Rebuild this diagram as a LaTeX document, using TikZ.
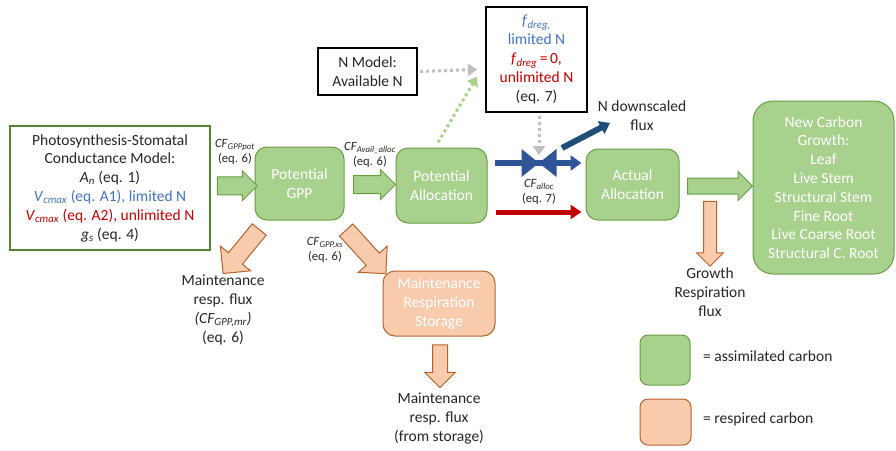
\documentclass[tikz,border=0pt]{standalone}
\usepackage{fontspec}
\setmainfont{Carlito}
\usetikzlibrary{shapes.arrows,arrows.meta,calc}
\definecolor{gfill}{HTML}{A9D18E}
\definecolor{gdraw}{HTML}{6A9E45}
\definecolor{gdark}{HTML}{548235}
\definecolor{ofill}{HTML}{F8CBAD}
\definecolor{odraw}{HTML}{B4632E}
\definecolor{tblue}{HTML}{4472C4}
\definecolor{tred}{HTML}{C00000}
\definecolor{vblue}{HTML}{2F5597}
\definecolor{dblue}{HTML}{1F4E79}
\definecolor{dgrey}{HTML}{BFBFBF}
\definecolor{ink}{HTML}{262626}
\newcommand{\FontMain}{\fontsize{15.5}{18.8}\selectfont}
\newcommand{\FontSmall}{\fontsize{12.6}{15}\selectfont}
\newcommand{\VarSub}[2]{\textit{#1}\textsubscript{\textit{#2}}}
\begin{document}
\begin{tikzpicture}[x=1pt,y=-1pt,font=\FontMain,text=ink,
  gbox/.style={draw=gdraw,fill=gfill,line width=1pt,rounded corners=12pt,text=white,align=center,inner sep=0pt},
  obox/.style={draw=odraw,fill=ofill,line width=1pt,rounded corners=12pt,text=white,align=center,inner sep=0pt},
  kbox/.style={draw=black,line width=2pt,fill=white,align=center,inner sep=0pt},
  lbl/.style={align=center,inner sep=0pt},
  slbl/.style={lbl,font=\FontSmall},
  garrow/.style={single arrow,draw=gdraw,fill=gfill,line width=1pt,inner xsep=0pt,single arrow head extend=6pt},
  oarrow/.style={single arrow,draw=odraw,fill=ofill,line width=1pt,inner xsep=0pt},
  dotarrow/.style={line width=3pt,dash pattern=on 3pt off 3pt,-{Triangle[length=9pt,width=12pt]}}]
\fill[white] (0,0) rectangle (896,450);
\useasboundingbox (0,0) rectangle (896,450);

% main boxes
\node[kbox,draw=gdark,minimum width=200pt,minimum height=124pt] (psm) at (110,188)
  {Photosynthesis-Stomatal\\ Conductance Model:\\ \VarSub{A}{n} (eq. 1)\\
   \textcolor{tblue}{\VarSub{V}{cmax} (eq. A1), limited N}\\
   \textcolor{tred}{\VarSub{V}{cmax} (eq. A2), unlimited N}\\
   \VarSub{g}{s} (eq. 4)};
\node[gbox,minimum width=89pt,minimum height=73pt] (pgpp) at (299.5,183.5) {Potential\\GPP};
\node[gbox,minimum width=91pt,minimum height=75pt] (palloc) at (441.5,185.5) {Potential\\Allocation};
\node[gbox,minimum width=93pt,minimum height=71pt] (aalloc) at (632.5,184.5) {Actual\\Allocation};
\node[gbox,rounded corners=20pt,minimum width=141pt,minimum height=173pt] (newc) at (823.5,187.5)
  {New Carbon\\Growth:\\Leaf\\Live Stem\\Structural Stem\\Fine Root\\Live Coarse Root\\Structural C. Root};
\node[obox,minimum width=112pt,minimum height=65pt] (mrs) at (439,303.5) {Maintenance\\Respiration\\Storage};
\node[kbox,minimum width=99pt,minimum height=47pt] (nmodel) at (367.5,71.5) {N Model:\\Available N};
\node[kbox,minimum width=101pt,minimum height=105pt] (fdreg) at (536.5,59.5)
  {\textcolor{tblue}{\VarSub{f}{dreg,}}\\ \textcolor{tblue}{limited N}\\
   \textcolor{tred}{\VarSub{f}{dreg}\,=\,0,}\\ \textcolor{tred}{unlimited N}\\ (eq. 7)};

% labels
\node[slbl] (lgpppot) at (235,152) {\VarSub{CF}{GPPpot}\\(eq. 6)};
\node[slbl] (lavail) at (370,155) {\VarSub{CF}{Avail\_alloc}\\(eq. 6)};
\node[slbl] (lxs) at (325,250) {\VarSub{CF}{GPP,xs}\\(eq. 6)};
\node[slbl] (lalloc) at (539,192) {\VarSub{CF}{alloc}\\(eq. 7)};
\node[lbl] (mrflux) at (223,310) {Maintenance\\resp. flux\\\textit{(\VarSub{CF}{GPP,mr})}\\(eq. 6)};
\node[lbl] (stflux) at (439,418.5) {Maintenance\\resp. flux\\(from storage)};
\node[lbl] (grflux) at (710,292) {Growth\\Respiration\\flux};
\node[lbl] (ndown) at (642,115.5) {N downscaled\\flux};

% block arrows
\node[garrow,inner ysep=8.5pt,minimum height=40pt] (ar1) at ($(psm.east)!0.5!(pgpp.west)$) {};
\node[garrow,inner ysep=8.5pt,minimum height=42pt] (ar2) at ($(pgpp.east)!0.5!(palloc.west)$) {};
\node[garrow,inner ysep=7.5pt,minimum height=65pt,single arrow head extend=6.5pt] (ar3) at ($(aalloc.east)!0.5!(newc.west)$) {};
\node[oarrow,inner ysep=8.5pt,minimum height=57pt,single arrow head extend=10.5pt,rotate=230.7] (ar4) at (244,248) {};
\node[oarrow,inner ysep=8.5pt,minimum height=59pt,single arrow head extend=10.5pt,rotate=-47.7] (ar5) at (363,248.5) {};
\node[oarrow,inner ysep=7pt,minimum height=43pt,single arrow head extend=8pt,rotate=-90] (ar6) at (440,362.5) {};
\node[oarrow,inner ysep=6pt,minimum height=65pt,single arrow head extend=7pt,rotate=-90] (ar7) at (710,230.5) {};

% flux lines
\coordinate (valve) at (539,163);
\draw[line width=6pt,vblue,-{Triangle[length=11pt,width=15pt]}] ($(palloc.east |- valve)+(7,0)$) -- ($(aalloc.west |- valve)+(-4,0)$);
\draw[line width=5pt,tred,-{Triangle[length=11pt,width=14pt]}] ($(palloc.east)+(8,26.5)$) -- ($(aalloc.west)+(-4,27.5)$);
\fill[vblue] ($(valve)+(-17.5,-14)$) -- ($(valve)+(-17.5,14)$) -- (valve) -- cycle;
\fill[vblue] ($(valve)+(17.5,-14)$) -- ($(valve)+(17.5,14)$) -- (valve) -- cycle;
\coordinate (ndtail) at (562,148);
\coordinate (ndtip) at (610,123);
\draw[line width=6pt,dblue,-{Triangle[length=10pt,width=14pt]}] (ndtail) -- (ndtip);

% dotted arrows
\draw[dotarrow,dgrey] ($(nmodel.east)+(2,0)$) -- ($(fdreg.west |- nmodel.east)+(-8,-2)$);
\draw[dotarrow,dgrey] ($(fdreg.south -| valve)+(0,3)$) -- ($(valve)+(0,-8)$);
\draw[dotarrow,gfill] ($(palloc.north)+(-3.5,-5)$) -- ($(fdreg.west)+(-8,17)$);

% legend
\node[gbox,rounded corners=8pt,minimum width=50pt,minimum height=50pt] (leg1) at (665,360) {};
\node[lbl,anchor=west] (leg1t) at (703,356) {= assimilated carbon};
\node[obox,rounded corners=8pt,minimum width=51pt,minimum height=46pt] (leg2) at (665.5,422) {};
\node[lbl,anchor=west] (leg2t) at (703,419) {= respired carbon};
\end{tikzpicture}
\end{document}
